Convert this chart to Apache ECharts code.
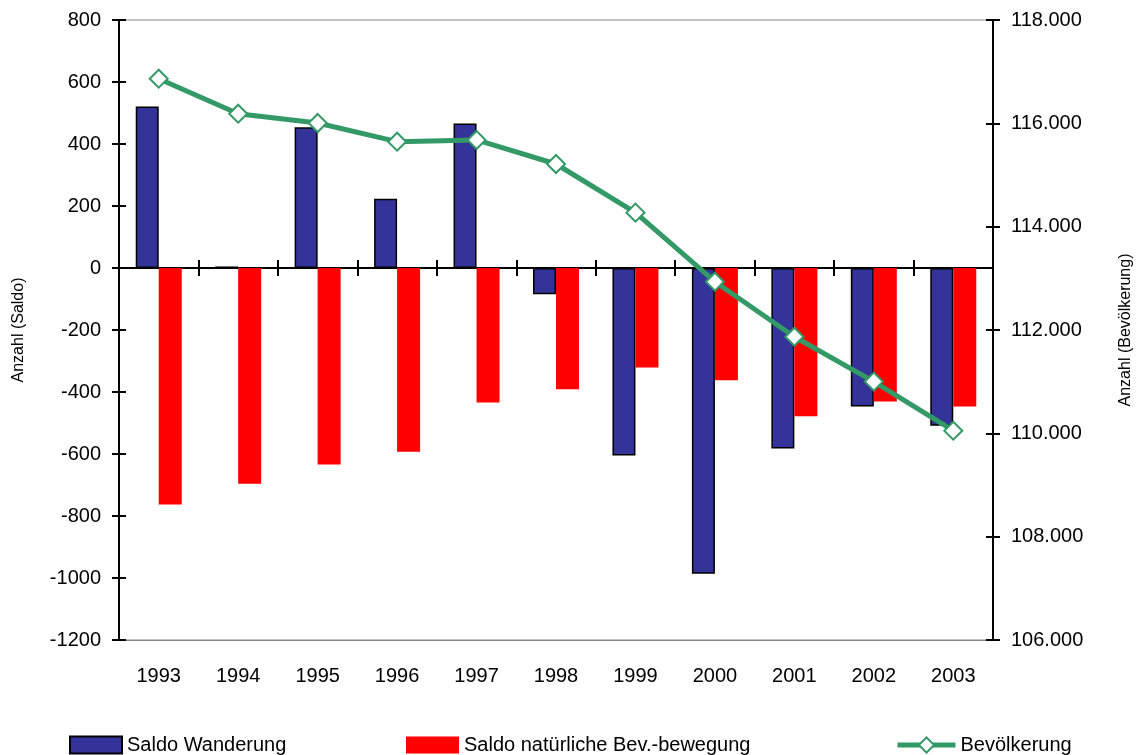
<!DOCTYPE html>
<html>
<head>
<meta charset="utf-8">
<script src="https://cdn.jsdelivr.net/npm/echarts@6/dist/echarts.min.js"></script>
<style>
  html, body { margin: 0; padding: 0; background: #fff; }
  #chart { width: 1142px; height: 755px; }
</style>
</head>
<body>
<div id="chart"></div>
<script>
const years = ['1993', '1994', '1995', '1996', '1997', '1998', '1999', '2000', '2001', '2002', '2003']
const saldoWanderung = [521, 5, 454, 223, 466, -85, -605, -986, -582, -447, -509]
const saldoNatuerlich = [-763, -696, -634, -593, -434, -391, -321, -362, -478, -431, -447]
const bevoelkerung = [116864, 116187, 116007, 115645, 115678, 115213, 114271, 112935, 111870, 111001, 110051]

const font = '"Liberation Sans", Arial, sans-serif'
const green = '#339966'

const fmtThousands = (v) => String(v).replace(/\B(?=(\d{3})+(?!\d))/g, '.')

const blackLine = { show: true, onZero: false, lineStyle: { color: '#000', width: 2 } }
const tickOut = { show: true, length: 7, lineStyle: { color: '#000', width: 2 } }
const tickIn = { show: true, inside: true, length: 7, lineStyle: { color: '#000', width: 2 } }

const leftAxisBase = {
  type: 'value',
  position: 'left',
  min: -1200,
  max: 800,
  interval: 200,
  splitLine: { show: false },
}

const legendText = { fontSize: 20, color: '#000', fontFamily: font }

const chart = echarts.init(document.getElementById('chart'))
chart.setOption({
  animation: false,
  textStyle: { fontFamily: font },
  grid: {
    left: 119, right: 149, top: 20, bottom: 115,
    show: true, borderColor: '#888', borderWidth: 1,
  },
  legend: [
    {
      data: [{ name: 'Saldo Wanderung', icon: 'rect' }], left: 64, top: 730,
      itemWidth: 52, itemHeight: 17, itemGap: 4,
      textStyle: legendText,
    },
    {
      data: [{ name: 'Saldo natürliche Bev.-bewegung', icon: 'rect' }], left: 401, top: 730,
      itemWidth: 53, itemHeight: 17, itemGap: 4,
      textStyle: legendText,
    },
    {
      data: ['Bevölkerung'], left: 890, top: 730,
      itemWidth: 58, itemHeight: 19, itemGap: 2,
      lineStyle: { width: 5, color: green },
      textStyle: legendText,
    },
  ],
  xAxis: [
    {
      type: 'category',
      data: years,
      position: 'bottom',
      axisLine: { onZero: false, lineStyle: { color: '#888', width: 1 } },
      axisTick: { show: false },
      axisLabel: { color: '#000', fontSize: 20, margin: 26, fontFamily: font },
    },
    {
      type: 'category',
      data: years,
      axisLine: { onZero: true, onZeroAxisIndex: 0, lineStyle: { color: '#000', width: 2 } },
      axisTick: { show: true, length: 8, lineStyle: { color: '#000', width: 2 } },
      axisLabel: { show: false },
    },
    {
      type: 'category',
      data: years,
      axisLine: { onZero: true, onZeroAxisIndex: 0, show: false },
      axisTick: { show: true, length: -8, lineStyle: { color: '#000', width: 2 } },
      axisLabel: { show: false },
    },
  ],
  yAxis: [
    {
      ...leftAxisBase,
      name: 'Anzahl (Saldo)',
      nameLocation: 'middle',
      nameGap: 92,
      nameRotate: 90,
      nameTextStyle: { fontSize: 16, color: '#000', fontFamily: font },
      axisLine: blackLine,
      axisTick: tickOut,
      axisLabel: { color: '#000', fontSize: 20, margin: 18, fontFamily: font, formatter: (v) => String(v) },
    },
    {
      type: 'value',
      position: 'right',
      min: 106000,
      max: 118000,
      interval: 2000,
      offset: -7,
      splitLine: { show: false },
      name: 'Anzahl (Bevölkerung)',
      nameLocation: 'middle',
      nameGap: 132,
      nameRotate: 90,
      nameTextStyle: { fontSize: 16, color: '#000', fontFamily: font },
      axisLine: { show: false, onZero: false },
      axisTick: { show: true, length: 14, lineStyle: { color: '#000', width: 2 } },
      axisLabel: { color: '#000', fontSize: 20, margin: 25, fontFamily: font, formatter: fmtThousands },
    },
    {
      // same scale as the left axis, carries the second bar series and the inward ticks
      ...leftAxisBase,
      axisLine: blackLine,
      axisTick: tickIn,
      axisLabel: { show: false },
    },
    {
      type: 'value',
      position: 'right',
      min: 106000,
      max: 118000,
      interval: 2000,
      splitLine: { show: false },
      axisLine: blackLine,
      axisTick: { show: false },
      axisLabel: { show: false },
    },
  ],
  series: [
    {
      name: 'Saldo Wanderung',
      type: 'bar',
      data: saldoWanderung,
      barWidth: 23,
      barGap: '0%',
      itemStyle: { color: '#333399', borderColor: '#000', borderWidth: 1.5 },
    },
    {
      name: 'Saldo natürliche Bev.-bewegung',
      type: 'bar',
      yAxisIndex: 2,
      data: saldoNatuerlich,
      barWidth: 23,
      barGap: '0%',
      itemStyle: { color: '#ff0000' },
    },
    {
      name: 'Bevölkerung',
      type: 'line',
      yAxisIndex: 1,
      data: bevoelkerung,
      symbol: 'diamond',
      symbolSize: 18,
      lineStyle: { color: green, width: 5 },
      itemStyle: { color: '#fff', borderColor: green, borderWidth: 2 },
      z: 5,
    },
  ],
})
</script>
</body>
</html>
